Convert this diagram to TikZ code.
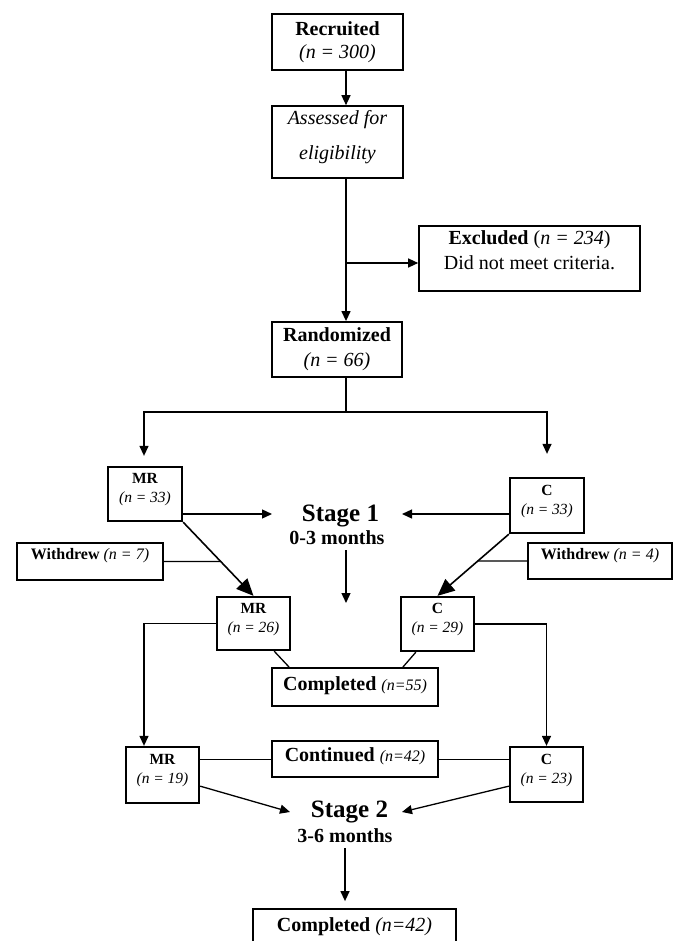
\documentclass[tikz,border=0pt]{standalone}
\usepackage{fontspec}
\setmainfont{Liberation Serif}
\usetikzlibrary{arrows.meta,calc,intersections}
\begin{document}
\begin{tikzpicture}[x=1pt,y=-1pt,
  box/.style={draw, line width=1.8pt, inner sep=0pt, align=center, font=\fontsize{20}{25}\selectfont},
  sbox/.style={draw, line width=2.3pt, inner sep=0pt, align=center, font=\fontsize{15.5}{19}\selectfont},
  wbox/.style={draw, line width=2pt, inner sep=0pt, align=center, font=\fontsize{16}{19}\selectfont},
  stage/.style={inner sep=0pt, anchor=base, font=\bfseries\fontsize{25}{30}\selectfont},
  months/.style={inner sep=0pt, anchor=base, font=\bfseries\fontsize{20}{24}\selectfont},
  conn/.style={line width=1.3pt},
  thin/.style={line width=1pt},
  arr/.style={conn, -{Triangle[length=10pt,width=9pt]}},
  bigarr/.style={line width=1.6pt, -{Triangle[length=17pt,width=15pt]}}
]
\useasboundingbox (0,0) rectangle (674,941);
\clip (0,0) rectangle (674,941);
\fill[white] (0,0) rectangle (674,941);

% nodes
\node[box, minimum width=131pt, minimum height=56pt, font=\fontsize{20}{23}\selectfont] (rec) at (337.5,42)
  {\textbf{Recruited}\\\textit{(n = 300)}};
\node[box, line width=1.6pt, minimum width=131pt, minimum height=72pt, font=\fontsize{20}{35}\selectfont, text depth=13.5pt] (ass) at (337.5,142)
  {\textit{Assessed for}\\\textit{eligibility}};
\node[box, line width=1.6pt, minimum width=221pt, minimum height=65pt, text depth=16pt] (exc) at (529.5,258.5)
  {\textbf{Excluded} (\textit{n = 234})\\Did not meet criteria.};
\node[box, minimum width=130pt, minimum height=55pt] (ran) at (337,349.5)
  {\textbf{Randomized}\\\textit{(n = 66)}};

\node[sbox, minimum width=74pt, minimum height=54pt, text depth=12pt] (mr33) at (145,494)
  {\textbf{MR}\\\textit{(n = 33)}};
\node[sbox, minimum width=74pt, minimum height=55pt, text depth=12pt] (c33) at (547,505.5)
  {\textbf{C}\\\textit{(n = 33)}};
\node[wbox, minimum width=146pt, minimum height=37pt, text depth=14.5pt] (w7) at (90,561.5)
  {\textbf{Withdrew} \textit{(n = 7)}};
\node[wbox, minimum width=144pt, minimum height=36pt, text depth=14.5pt] (w4) at (600,561)
  {\textbf{Withdrew} \textit{(n = 4)}};
\node[sbox, minimum width=73pt, minimum height=53pt, text depth=12pt] (mr26) at (253.5,623.5)
  {\textbf{MR}\\\textit{(n = 26)}};
\node[sbox, minimum width=73pt, minimum height=54pt, text depth=12pt] (c29) at (437.5,624)
  {\textbf{C}\\\textit{(n = 29)}};
\node[box, minimum width=166pt, minimum height=38pt, text depth=7.5pt] (comp55) at (355,687)
  {\textbf{Completed} {\fontsize{16}{19}\selectfont\textit{(n=55)}}};
\node[sbox, minimum width=73pt, minimum height=56pt, text depth=12pt] (mr19) at (162.5,775)
  {\textbf{MR}\\\textit{(n = 19)}};
\node[box, minimum width=166pt, minimum height=36pt, text depth=9.5pt] (cont) at (355,759)
  {\textbf{Continued} {\fontsize{16}{19}\selectfont\textit{(n=42)}}};
\node[sbox, minimum width=73pt, minimum height=55pt, text depth=12pt] (c23) at (546.5,774.5)
  {\textbf{C}\\\textit{(n = 23)}};
\node[box, minimum width=203pt, minimum height=50pt, text depth=18pt] (comp42) at (354.5,934)
  {\textbf{Completed} \textit{(n=42)}};

\node[stage] (st1) at (340.5,521) {Stage 1};
\node[months] (st1m) at (337,544) {0-3 months};
\node[stage] (st2) at (349.5,817) {Stage 2};
\node[months] (st2m) at (345,842) {3-6 months};

% coordinates
\coordinate (sp) at (346,0);
\coordinate (j0) at (346,263);
\coordinate (jr) at (346,412);
\coordinate (jl) at (144,412);
\coordinate (s1l) at (272,514);
\coordinate (s1r) at (402,514);
\coordinate (d1a) at (346,550);
\coordinate (d1b) at (346,603);
\coordinate (s2l) at (290,812);
\coordinate (s2r) at (402,812);
\coordinate (d2a) at (345,848);

% connectors
\draw[arr] (rec.south -| sp) -- (ass.north -| sp);
\draw[arr] (ass.south -| sp) -- (ran.north -| sp);
\draw[arr] (j0) -- (j0 -| exc.west);
\draw[conn] (ran.south -| sp) -- (jr);
\draw[arr, shorten >=10pt] (jr) -| (jl |- mr33.north);
\draw[arr, shorten >=23pt] (jr) -| (c33.north);

\draw[arr] (mr33.east |- s1l) -- (s1l);
\draw[arr] (c33.west |- s1r) -- (s1r);
\draw[arr] (d1a) -- (d1b);

\draw[bigarr, name path=dgl] (mr33.south east) -- (mr26.north);
\draw[bigarr, name path=dgr] (c33.south west) -- (c29.north);
\path[name path=hw7] (w7.east) -- ++(120,0);
\path[name path=hw4] (w4.west) -- ++(-120,0);
\draw[conn, name intersections={of=dgl and hw7, by=iw7}] (w7.east) -- (iw7);
\draw[conn, name intersections={of=dgr and hw4, by=iw4}] (w4.west) -- (iw4);

\draw[arr] (mr26.west) -| (jl |- mr19.north);
\draw[arr] (c29.east) -| (c23.north);
\draw[conn] ($(mr26.south east)+(-17,0)$) -- ($(comp55.north west)+(18,0)$);
\draw[conn] ($(c29.south west)+(16,0)$) -- ($(comp55.north east)+(-36,0)$);

\draw[thin] (mr19.east |- cont.west) -- (cont.west);
\draw[thin] (cont.east) -- (c23.west |- cont.east);
\draw[arr] ($(mr19.south east)+(0,-18)$) -- (s2l);
\draw[arr] ($(c23.south west)+(0,-17)$) -- (s2r);
\draw[arr, shorten >=7pt] (d2a) -- (d2a |- comp42.north);
\end{tikzpicture}
\end{document}
